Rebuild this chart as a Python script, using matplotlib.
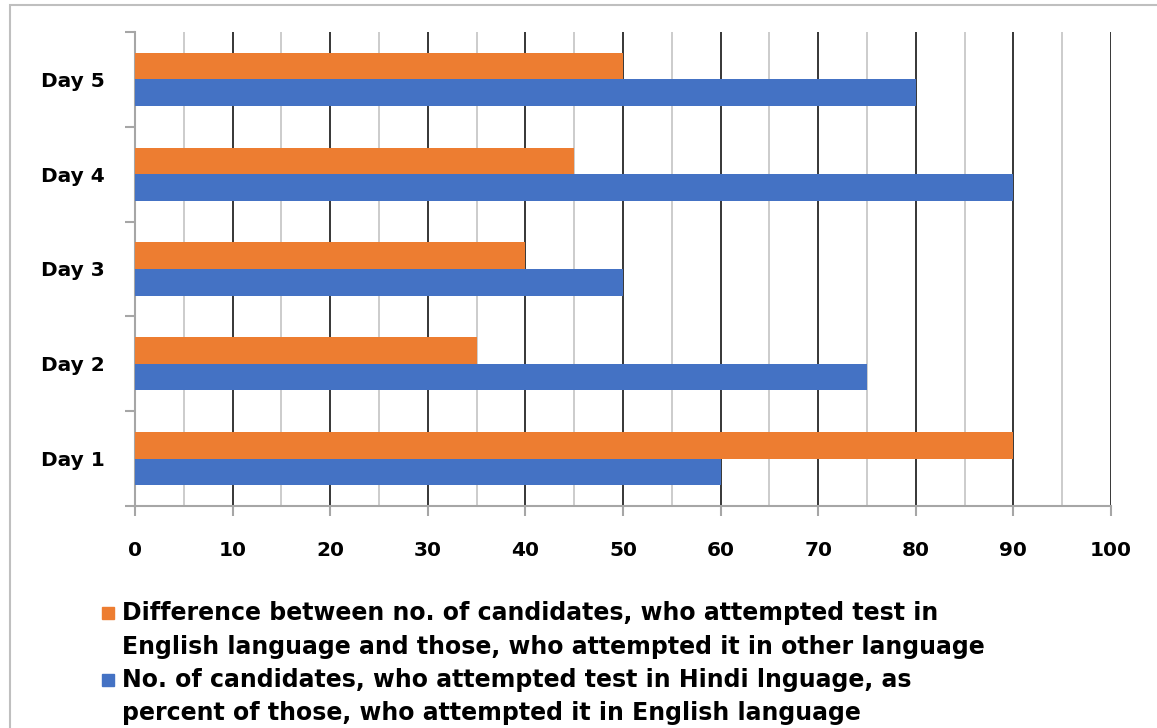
import matplotlib
matplotlib.use("Agg")
import matplotlib.pyplot as plt
from matplotlib.patches import Rectangle

days = ["Day 1", "Day 2", "Day 3", "Day 4", "Day 5"]
difference = [90, 35, 40, 45, 50]
hindi_pct = [60, 75, 50, 90, 80]
legend_lines = [
    ["Difference between no. of candidates, who attempted test in",
     "English language and those, who attempted it in other language"],
    ["No. of candidates, who attempted test in Hindi lnguage, as",
     "percent of those, who attempted it in English language"],
]
orange = "#ED7D31"
blue = "#4472C4"

W, H = 1157, 728
fig = plt.figure(figsize=(W / 100, H / 100), dpi=100)
plt.rcParams['font.family'] = ['DejaVu Sans']

# figure frame (extends past right and bottom edges as in the reference)
fig.patches.append(Rectangle((10 / W, -0.2), 2.0, 1.2 - 5 / H, transform=fig.transFigure,
                             fill=False, edgecolor="#BFBFBF", linewidth=1.5))

ax = fig.add_axes([135 / W, 1 - 506 / H, (1111 - 135) / W, (506 - 32) / H])
y = list(range(len(days)))
h = 0.28
ax.barh([v + h / 2 for v in y], difference, height=h, color=orange, zorder=3)
ax.barh([v - h / 2 for v in y], hindi_pct, height=h, color=blue, zorder=3)

ax.set_xlim(0, 100)
ax.set_ylim(-0.5, 4.5)
ax.set_xticks(range(0, 101, 10))
ax.set_xticks(range(5, 100, 10), minor=True)
ax.set_yticks(y, labels=days)
ax.set_yticks([v - 0.5 for v in range(6)], minor=True)

ax.grid(axis="x", which="major", color="black", linewidth=1.1, zorder=0)
ax.grid(axis="x", which="minor", color="#BFBFBF", linewidth=1.1, zorder=0)
ax.set_axisbelow(True)

for s in ["top", "right"]:
    ax.spines[s].set_visible(False)
for s in ["left", "bottom"]:
    ax.spines[s].set_color("#A6A6A6")
    ax.spines[s].set_linewidth(1.5)

ax.tick_params(axis="x", which="major", length=7, width=1.5, color="#A6A6A6", pad=18,
               labelsize=14.5)
ax.tick_params(axis="x", which="minor", length=0)
ax.tick_params(axis="y", which="major", length=0, pad=22, labelsize=14.5)
ax.tick_params(axis="y", which="minor", length=7, width=1.5, color="#A6A6A6")
for lab in ax.get_xticklabels() + ax.get_yticklabels():
    lab.set_fontweight("bold")

# legend
line_y = [613, 647, 680, 713]
colors = [orange, blue]
k = 0
for i, lines in enumerate(legend_lines):
    fig.patches.append(Rectangle((102 / W, 1 - (line_y[k] + 6) / H), 12 / W, 12 / H,
                                 transform=fig.transFigure, color=colors[i]))
    for ln in lines:
        fig.text(122 / W, 1 - line_y[k] / H, ln, fontsize=17, fontweight="bold",
                 va="center", ha="left")
        k += 1

fig.savefig("out.png", dpi=100)
